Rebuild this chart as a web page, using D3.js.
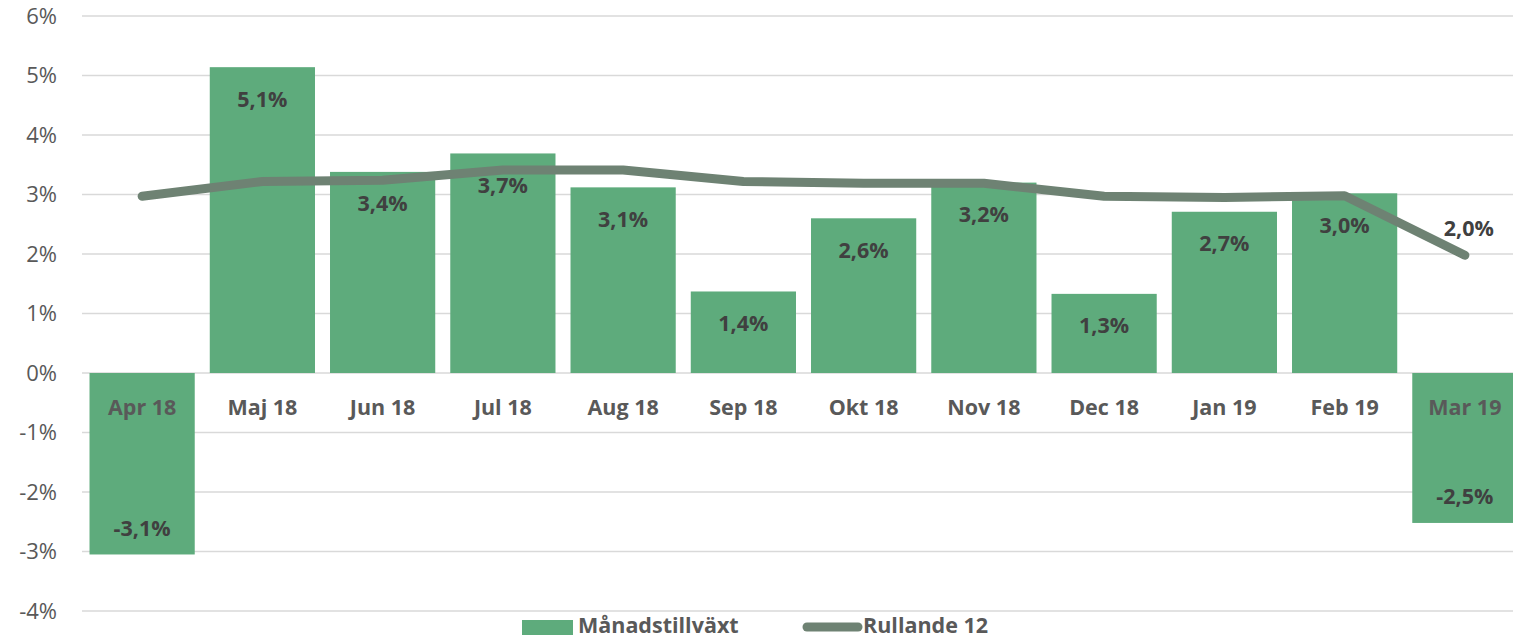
<!DOCTYPE html>
<html>
<head>
<meta charset="utf-8">
<script src="https://cdn.jsdelivr.net/npm/d3@7"></script>
<style>
  body { margin: 0; background: #fff; }
  svg { display: block; font-family: "Open Sans", Lato, sans-serif; }
</style>
</head>
<body>
<div id="chart"></div>
<script>
// chart data
const months = ["Apr 18", "Maj 18", "Jun 18", "Jul 18", "Aug 18", "Sep 18", "Okt 18", "Nov 18", "Dec 18", "Jan 19", "Feb 19", "Mar 19"];
const monthly = [-3.05, 5.14, 3.38, 3.69, 3.12, 1.37, 2.6, 3.2, 1.33, 2.71, 3.02, -2.52];
const monthlyLabels = ["-3,1%", "5,1%", "3,4%", "3,7%", "3,1%", "1,4%", "2,6%", "3,2%", "1,3%", "2,7%", "3,0%", "-2,5%"];
const rolling = [2.97, 3.22, 3.24, 3.41, 3.41, 3.22, 3.19, 3.19, 2.97, 2.95, 2.98, 1.98];
const rollingLastLabel = "2,0%";
const yTicks = [-4, -3, -2, -1, 0, 1, 2, 3, 4, 5, 6];
const legendNames = ["Månadstillväxt", "Rullande 12"];

const W = 1513, H = 637;
const barColor = "#5eab7c", lineColor = "#6e8273";
const labelColor = "#404040", axisColor = "#595959";
const fs = 21.5;

const svg = d3.select("#chart").append("svg")
    .attr("width", W)
    .attr("height", H);

const x = d3.scaleBand().domain(months).range([82, 1525]).paddingInner(0.125).paddingOuter(0.0625);
const y = d3.scaleLinear().domain([-4, 6]).range([611, 16]);

// gridlines
svg.append("g")
    .selectAll("line")
    .data(yTicks)
    .enter().append("line")
    .attr("x1", 82).attr("x2", W)
    .attr("y1", d => y(d)).attr("y2", d => y(d))
    .attr("stroke", "#d9d9d9")
    .attr("stroke-width", 1.3);

// y axis labels
svg.append("g")
    .selectAll("text")
    .data(yTicks)
    .enter().append("text")
    .attr("x", 57)
    .attr("y", d => y(d))
    .attr("dy", "0.35em")
    .attr("text-anchor", "end")
    .attr("font-size", 22)
    .attr("fill", axisColor)
    .text(d => d + "%");

// bars
svg.append("g")
    .selectAll("rect")
    .data(monthly)
    .enter().append("rect")
    .attr("x", (d, i) => x(months[i]))
    .attr("width", x.bandwidth())
    .attr("y", d => y(Math.max(0, d)))
    .attr("height", d => Math.abs(y(d) - y(0)))
    .attr("fill", barColor);

// category labels (drawn across the zero line)
svg.append("g")
    .selectAll("text")
    .data(months)
    .enter().append("text")
    .attr("x", d => x(d) + x.bandwidth() / 2)
    .attr("y", 407)
    .attr("dy", "0.35em")
    .attr("text-anchor", "middle")
    .attr("font-size", fs)
    .attr("font-weight", "bold")
    .attr("fill", axisColor)
    .text(d => d);

// rolling 12 line
const line = d3.line()
    .x((d, i) => x(months[i]) + x.bandwidth() / 2)
    .y(d => y(d));

svg.append("path")
    .datum(rolling)
    .attr("d", line)
    .attr("fill", "none")
    .attr("stroke", lineColor)
    .attr("stroke-width", 9)
    .attr("stroke-linecap", "round")
    .attr("stroke-linejoin", "round");

// bar value labels
svg.append("g")
    .selectAll("text")
    .data(monthly)
    .enter().append("text")
    .attr("x", (d, i) => x(months[i]) + x.bandwidth() / 2)
    .attr("y", d => d >= 0 ? y(d) + 32 : y(d) - 26)
    .attr("dy", "0.35em")
    .attr("text-anchor", "middle")
    .attr("font-size", fs)
    .attr("font-weight", "bold")
    .attr("fill", labelColor)
    .text((d, i) => monthlyLabels[i]);

// last rolling value label
const last = rolling.length - 1;
svg.append("text")
    .attr("x", x(months[last]) + x.bandwidth() / 2 + 4)
    .attr("y", y(rolling[last]) - 27)
    .attr("dy", "0.35em")
    .attr("text-anchor", "middle")
    .attr("font-size", fs)
    .attr("font-weight", "bold")
    .attr("fill", labelColor)
    .text(rollingLastLabel);

// legend
const legend = svg.append("g");
legend.append("rect")
    .attr("x", 522).attr("y", 620)
    .attr("width", 51).attr("height", 15)
    .attr("fill", barColor);
legend.append("text")
    .attr("x", 578).attr("y", 625)
    .attr("dy", "0.35em")
    .attr("font-size", fs)
    .attr("font-weight", "bold")
    .attr("fill", axisColor)
    .text(legendNames[0]);
legend.append("line")
    .attr("x1", 807).attr("x2", 858)
    .attr("y1", 627).attr("y2", 627)
    .attr("stroke", lineColor)
    .attr("stroke-width", 9)
    .attr("stroke-linecap", "round");
legend.append("text")
    .attr("x", 863).attr("y", 625)
    .attr("dy", "0.35em")
    .attr("font-size", fs)
    .attr("font-weight", "bold")
    .attr("fill", axisColor)
    .text(legendNames[1]);
</script>
</body>
</html>
